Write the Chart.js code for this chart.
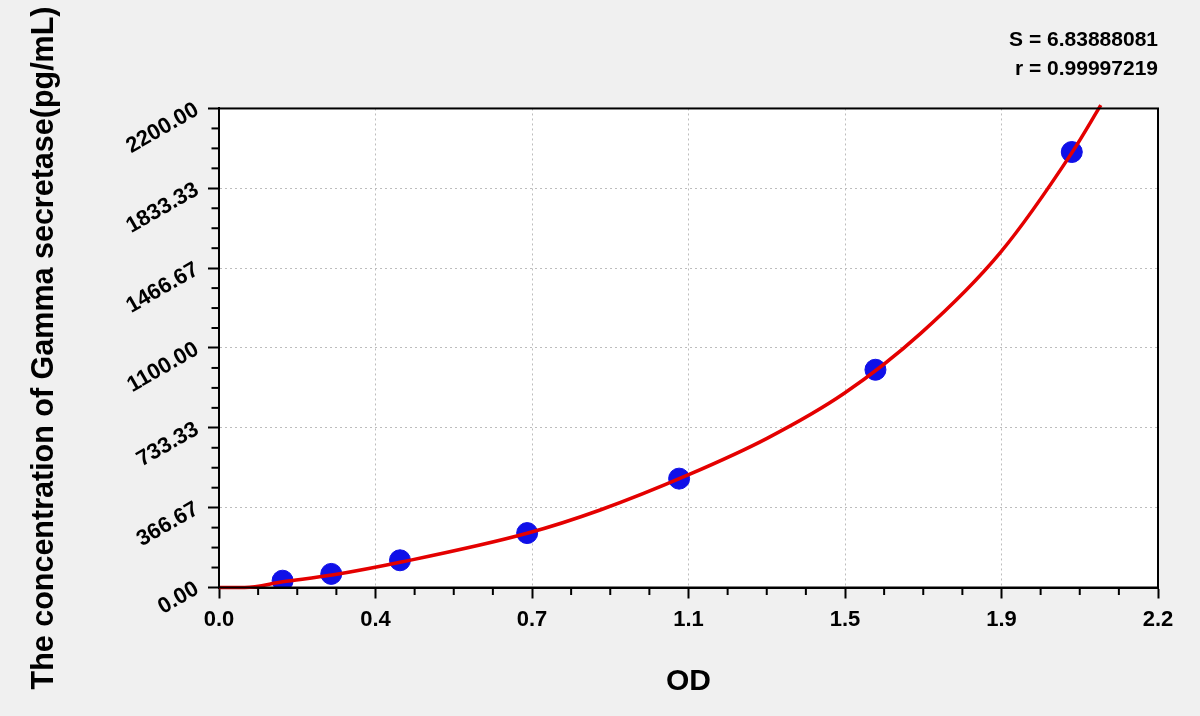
<!DOCTYPE html>
<html>
<head>
<meta charset="utf-8">
<title>Gamma secretase standard curve</title>
<script src="https://cdn.jsdelivr.net/npm/chart.js@4.4.1/dist/chart.umd.min.js"></script>
<style>
  html, body { margin: 0; padding: 0; background: #f0f0f0; }
  canvas { display: block; }
</style>
</head>
<body>
<canvas id="curveChart" width="1200" height="716"></canvas>
<script>
// standards: OD vs concentration
const odValues = [0.149, 0.263, 0.424, 0.722, 1.078, 1.538, 1.998];
const concValues = [31.25, 62.5, 125, 250, 500, 1000, 2000];

// fitted curve
const curveOD = [0, 0.06, 0.149, 0.265, 0.43, 0.722, 0.893, 1.099, 1.284, 1.465, 1.644, 1.831, 1.998, 2.066];
const curveConc = [0, 0, 26, 57, 118, 249, 356, 517, 685, 892, 1167, 1539, 1996, 2215];

const xTickLabels = ['0.0', '0.4', '0.7', '1.1', '1.5', '1.9', '2.2'];
const yTickLabels = ['0.00', '366.67', '733.33', '1100.00', '1466.67', '1833.33', '2200.00'];
const fitStats = ['S = 6.83888081', 'r = 0.99997219'];

const X_MAX = 2.2;
const Y_MAX = 2200;
const MINOR = 4; // sub-divisions per major step

const FONT = "'Liberation Sans', Arial, sans-serif";
Chart.defaults.color = '#000';
Chart.defaults.font.family = FONT;

function tickSet(max, labels) {
  const n = (labels.length - 1) * MINOR;
  return Array.from({ length: n + 1 }, (_, i) => ({ value: max * i / n }));
}

const plotFrame = {
  id: 'plotFrame',
  beforeDraw(chart) {
    const { ctx, chartArea: a } = chart;
    ctx.save();
    ctx.fillStyle = '#fff';
    ctx.fillRect(a.left, a.top, a.right - a.left, a.bottom - a.top);
    ctx.restore();
  },
  afterDraw(chart) {
    const { ctx, chartArea: a, scales } = chart;
    ctx.save();
    ctx.setLineDash([]);
    ctx.strokeStyle = '#000';
    ctx.lineWidth = 2;
    ctx.strokeRect(a.left, a.top, a.right - a.left, a.bottom - a.top);
    // short minor ticks
    scales.x.ticks.forEach((t, i) => {
      if (i % MINOR === 0) return;
      const px = scales.x.getPixelForValue(t.value);
      ctx.beginPath();
      ctx.moveTo(px, a.bottom);
      ctx.lineTo(px, a.bottom + 7.5);
      ctx.stroke();
    });
    scales.y.ticks.forEach((t, i) => {
      if (i % MINOR === 0) return;
      const py = scales.y.getPixelForValue(t.value);
      ctx.beginPath();
      ctx.moveTo(a.left, py);
      ctx.lineTo(a.left - 7.5, py);
      ctx.stroke();
    });
    ctx.restore();
  }
};

const gridColor = (c) => (c.index % MINOR === 0 && c.index !== 0) ? '#bdbdbd' : 'transparent';
const tickColor = (c) => (c.index % MINOR === 0) ? '#000' : 'transparent';

new Chart(document.getElementById('curveChart'), {
  type: 'scatter',
  data: {
    datasets: [
      {
        label: 'Fit',
        type: 'line',
        data: curveOD.map((x, i) => ({ x: x, y: curveConc[i] })),
        borderColor: '#e40000',
        borderWidth: 3.5,
        pointRadius: 0,
        cubicInterpolationMode: 'monotone',
        fill: false,
        clip: false,
        order: 0
      },
      {
        label: 'Standards',
        data: odValues.map((x, i) => ({ x: x, y: concValues[i] })),
        backgroundColor: '#1010e8',
        borderColor: '#1010e8',
        pointRadius: 10.5,
        pointHoverRadius: 10.5,
        order: 1
      }
    ]
  },
  options: {
    responsive: false,
    animation: false,
    layout: { padding: { left: 0, right: 42, top: 0, bottom: 0 } },
    plugins: {
      legend: { display: false },
      tooltip: { enabled: false },
      title: {
        display: true,
        text: fitStats,
        align: 'end',
        font: { size: 21, weight: 'bold', lineHeight: 1.38 },
        padding: { top: 26, bottom: 24.5 }
      }
    },
    scales: {
      x: {
        type: 'linear',
        min: 0,
        max: X_MAX,
        afterBuildTicks: (s) => { s.ticks = tickSet(X_MAX, xTickLabels); },
        afterFit: (s) => { s.height = 128.5; },
        ticks: {
          autoSkip: false,
          maxRotation: 0,
          padding: 8,
          font: { size: 22, weight: 'bold' },
          callback: (v, i) => (i % MINOR === 0 ? xTickLabels[i / MINOR] : '')
        },
        grid: { color: gridColor, lineWidth: 1, tickLength: 11, tickWidth: 2, tickColor: tickColor },
        border: { color: '#000', width: 2, dash: [2, 3] },
        title: {
          display: true,
          text: 'OD',
          font: { size: 30, weight: 'bold' },
          padding: { top: 0, bottom: 16 }
        }
      },
      y: {
        type: 'linear',
        min: 0,
        max: Y_MAX,
        afterBuildTicks: (s) => { s.ticks = tickSet(Y_MAX, yTickLabels); },
        afterFit: (s) => { s.width = 219; },
        ticks: {
          autoSkip: false,
          minRotation: 30,
          maxRotation: 30,
          padding: 11,
          font: { size: 22, weight: 'bold' },
          callback: (v, i) => (i % MINOR === 0 ? yTickLabels[i / MINOR] : '')
        },
        grid: { color: gridColor, lineWidth: 1, tickLength: 11, tickWidth: 2, tickColor: tickColor },
        border: { color: '#000', width: 2, dash: [2, 3] },
        title: {
          display: true,
          text: 'The concentration of Gamma secretase(pg/mL)',
          font: { size: 30.5, weight: 'bold' },
          padding: { top: 26, bottom: 0 }
        }
      }
    }
  },
  plugins: [plotFrame]
});
</script>
</body>
</html>
